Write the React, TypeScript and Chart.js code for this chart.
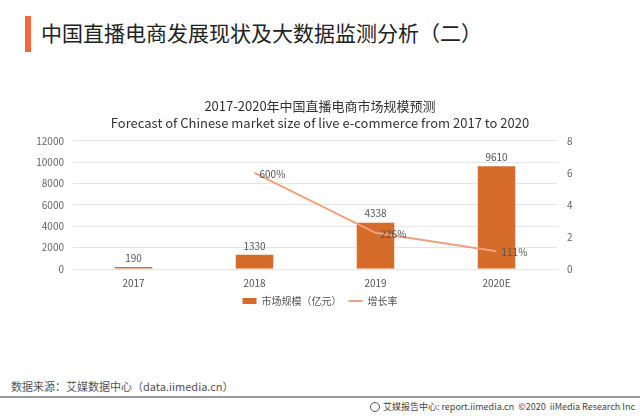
import React, { useEffect, useRef } from "react";
import { Chart, registerables } from "chart.js";

Chart.register(...registerables);

const categories = ["2017", "2018", "2019", "2020E"];
const marketSize = [190, 1330, 4338, 9610];
const growthRate = [null, 6.0, 2.26, 1.11];
const leftTicks = [0, 2000, 4000, 6000, 8000, 10000, 12000];
const rightTicks = [0, 2, 4, 6, 8];
const titleLines = [
  "2017-2020年中国直播电商市场规模预测",
  "Forecast of Chinese market size of live e-commerce from 2017 to 2020",
];
const seriesNames = ["市场规模（亿元）", "增长率"];

const BAR_COLOR = "#d56c2a";
const LINE_COLOR = "#f2a17d";
const FONT = "'Noto Sans CJK SC', 'Noto Sans', sans-serif";

const labelPlugin = {
  id: "valueLabels",
  afterDatasetsDraw(chart: any) {
    const ctx = chart.ctx;
    ctx.save();
    ctx.font = `10px ${FONT}`;
    ctx.fillStyle = "#555555";
    chart.data.datasets.forEach((ds: any, di: number) => {
      const meta = chart.getDatasetMeta(di);
      meta.data.forEach((el: any, i: number) => {
        const v = ds.data[i];
        if (v === null || v === undefined) return;
        if (ds.type === "bar") {
          ctx.textAlign = "center";
          ctx.textBaseline = "bottom";
          ctx.fillText(String(v), el.x, el.y - 4);
        } else {
          ctx.textAlign = "left";
          ctx.textBaseline = "middle";
          ctx.fillText(`${Math.round(v * 100)}%`, el.x + 5, el.y + 1);
        }
      });
    });
    ctx.restore();
  },
};

function ChartBox() {
  const ref = useRef<HTMLCanvasElement | null>(null);
  useEffect(() => {
    if (!ref.current) return;
    const chart = new Chart(ref.current, {
      type: "bar",
      data: {
        labels: categories,
        datasets: [
          {
            type: "bar",
            label: seriesNames[0],
            data: marketSize,
            backgroundColor: BAR_COLOR,
            borderWidth: 0,
            barPercentage: 0.31,
            categoryPercentage: 1,
            yAxisID: "y",
            order: 2,
            pointStyle: "rect",
          } as any,
          {
            type: "line",
            label: seriesNames[1],
            data: growthRate,
            borderColor: LINE_COLOR,
            backgroundColor: LINE_COLOR,
            borderWidth: 2,
            pointRadius: 0,
            tension: 0,
            yAxisID: "y1",
            order: 1,
            pointStyle: "line",
          } as any,
        ],
      },
      options: {
        animation: false,
        responsive: false,
        maintainAspectRatio: false,
        layout: { padding: 0 },
        plugins: {
          title: {
            display: true,
            text: titleLines,
            color: "#333333",
            font: { family: FONT, size: 13, weight: "normal", lineHeight: 1.3 },
            padding: { top: 2, bottom: 9 },
          },
          legend: {
            position: "bottom",
            labels: {
              usePointStyle: true,
              pointStyleWidth: 14,
              boxHeight: 6,
              padding: 7,
              color: "#555555",
              font: { family: FONT, size: 10 },
              sort: (a: any, b: any) => a.datasetIndex - b.datasetIndex,
            },
          },
          tooltip: { enabled: false },
        },
        scales: {
          x: {
            grid: { display: false, drawTicks: false },
            border: { display: false },
            ticks: { color: "#555555", font: { family: FONT, size: 10 }, padding: 8 },
            afterFit: (s: any) => {
              s.height = 20;
            },
          },
          y: {
            position: "left",
            min: 0,
            max: 12000,
            afterBuildTicks: (s: any) => {
              s.ticks = leftTicks.map((v) => ({ value: v }));
            },
            grid: { color: "#e5e5e5", drawTicks: false, lineWidth: 1 },
            border: { display: false },
            ticks: {
              color: "#666666",
              font: { family: FONT, size: 10 },
              padding: 9,
              callback: (v: any) => String(v),
            },
            afterFit: (s: any) => {
              s.width = 73;
            },
          },
          y1: {
            position: "right",
            min: 0,
            max: 8,
            afterBuildTicks: (s: any) => {
              s.ticks = rightTicks.map((v) => ({ value: v }));
            },
            grid: { display: false, drawTicks: false },
            border: { display: false },
            ticks: {
              color: "#666666",
              font: { family: FONT, size: 10 },
              padding: 10,
              callback: (v: any) => String(v),
            },
            afterFit: (s: any) => {
              s.width = 83;
            },
          },
        },
      },
      plugins: [labelPlugin],
    });
    return () => chart.destroy();
  }, []);
  return (
    <canvas
      ref={ref}
      width={640}
      height={220}
      style={{ position: "absolute", left: 0, top: 96, width: 640, height: 220 }}
    />
  );
}

export default function App() {
  useEffect(() => {
    document.body.style.margin = "0";
  }, []);
  return (
    <div
      style={{
        position: "relative",
        width: 640,
        height: 416,
        background: "#ffffff",
        overflow: "hidden",
        fontFamily: FONT,
      }}
    >
      <div
        style={{
          position: "absolute",
          left: 25,
          top: 16,
          width: 6,
          height: 36,
          background: "#f26a3a",
        }}
      />
      <div
        style={{
          position: "absolute",
          left: 41,
          top: 19,
          fontSize: 21,
          lineHeight: "26px",
          color: "#222222",
          whiteSpace: "nowrap",
        }}
      >
        中国直播电商发展现状及大数据监测分析（二）
      </div>
      <ChartBox />
      <div
        style={{
          position: "absolute",
          left: 11,
          top: 378,
          fontSize: 11,
          lineHeight: "16px",
          color: "#555555",
          whiteSpace: "nowrap",
        }}
      >
        数据来源：艾媒数据中心（data.iimedia.cn）
      </div>
      <div
        style={{
          position: "absolute",
          left: 0,
          top: 396,
          width: 640,
          height: 2,
          background: "#9a9a9a",
        }}
      />
      <div
        style={{
          position: "absolute",
          right: 5,
          top: 401,
          fontSize: 9,
          lineHeight: "12px",
          color: "#444444",
          whiteSpace: "nowrap",
          display: "flex",
          alignItems: "center",
        }}
      >
        <span
          style={{
            display: "inline-block",
            width: 8,
            height: 8,
            borderRadius: "50%",
            border: "1px solid #555",
            marginRight: 3,
          }}
        />
        艾媒报告中心: report.iimedia.cn&nbsp;&nbsp;©2020&nbsp;&nbsp;iiMedia Research Inc
      </div>
    </div>
  );
}
